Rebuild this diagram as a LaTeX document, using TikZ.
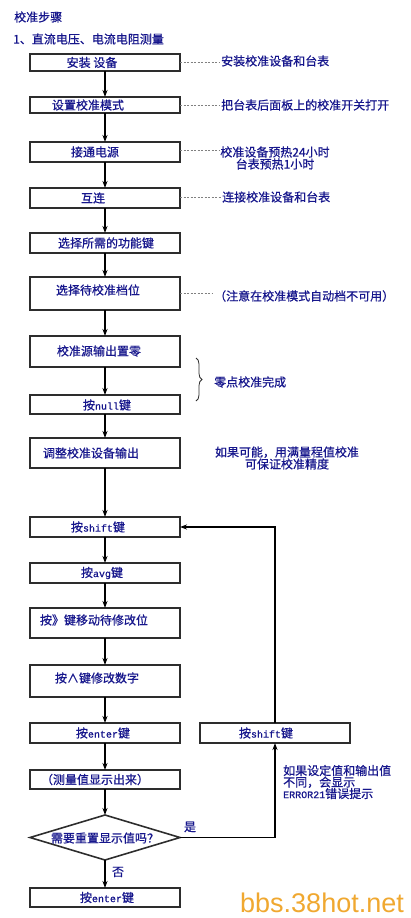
\documentclass[tikz,border=0pt]{standalone}
\usepackage{fontspec}
\setmainfont{Noto Sans CJK SC}[FakeBold=0.6]
\newfontfamily\latmono{Liberation Mono}[FakeBold=0.5]
\newfontfamily\wmfont{Liberation Sans}
\usetikzlibrary{arrows.meta,shapes.geometric,decorations.pathreplacing}
\definecolor{navy}{RGB}{22,22,140}
\definecolor{edgec}{RGB}{45,45,45}
\definecolor{wmc}{RGB}{240,168,48}
\newcommand\lt[1]{{\fontsize{10}{10}\selectfont\latmono #1}}
\begin{document}
\begin{tikzpicture}[x=1pt,y=-1pt,
 box/.style={draw=edgec, line width=1.6pt, fill=white, minimum width=150pt, inner sep=0pt, outer sep=0pt},
 txt/.style={text=navy, font=\fontsize{12}{12}\selectfont, inner sep=1pt},
 note/.style={text=navy, font=\fontsize{12}{12}\selectfont, inner sep=1pt, anchor=west},
 arr/.style={draw=black, line width=1.2pt, -{Stealth[length=7pt,width=5pt]}},
 dsh/.style={draw=gray, line width=0.9pt, dash pattern=on 2pt off 1.5pt},
]
\useasboundingbox[fill=white] (0,0) rectangle (410,918);

% titles
\node[note] (title) at (13,17) {校准步骤};
\node[note] (sub) at (12,39) {1、直流电压、电流电阻测量};

% boxes
\node[box, minimum height=17pt] (b1) at (105,62.5) {};
\node[box, minimum height=16pt] (b2) at (105,105) {};
\node[box, minimum height=20pt] (b3) at (105,152) {};
\node[box, minimum height=20pt] (b4) at (105,198) {};
\node[box, minimum height=20pt] (b5) at (105,243) {};
\node[box, minimum height=33pt] (b6) at (105,293.5) {};
\node[box, minimum height=31pt] (b7) at (105,351.5) {};
\node[box, minimum height=19pt] (b8) at (105,404.5) {};
\node[box, minimum height=30pt] (b9) at (105,453) {};
\node[box, minimum height=20pt] (b10) at (105,527) {};
\node[box, minimum height=20pt] (b11) at (105,573) {};
\node[box, minimum height=30pt] (b12) at (105,623) {};
\node[box, minimum height=32pt] (b13) at (105,681) {};
\node[box, minimum height=20pt] (b14) at (105,733) {};
\node[box, minimum height=20pt] (r) at (275,733) {};
\node[box, minimum height=19pt] (b15) at (105,779.5) {};
\node[draw=edgec, line width=1.6pt, fill=white, diamond, aspect=3.33, minimum width=150pt, minimum height=45pt, inner sep=0pt, outer sep=0pt] (d) at (105,837.5) {};
\node[box, minimum height=19pt] (b17) at (105,897.5) {};

% box texts
\node[txt] (t1) at (92,62.5) {安装 设备};
\node[txt] (t2) at (88,105) {设置校准模式};
\node[txt] (t3) at (95,152) {接通电源};
\node[txt] (t4) at (93,198) {互连};
\node[txt] (t5) at (106,243) {选择所需的功能键};
\node[txt] (t6) at (98,290) {选择待校准档位};
\node[txt] (t7) at (99,351) {校准源输出置零};
\node[txt] (t8) at (107,405) {按\lt{null}键};
\node[txt] (t9) at (91,453) {调整校准设备输出};
\node[txt] (t10) at (98,527) {按\lt{shift}键};
\node[txt] (t11) at (102,573) {按\lt{avg}键};
\node[txt] (t12) at (94,620) {按》键移动待修改位};
\node[txt] (t13) at (97,678) {按∧键修改数字};
\node[txt] (t14) at (103,733) {按\lt{enter}键};
\node[txt] (tr) at (266,733) {按\lt{shift}键};
\node[txt] (t15) at (95,779.5) {（测量值显示出来）};
\node[txt] (td) at (105,838) {需要重置显示值吗？};
\node[txt] (t17) at (107,897.5) {按\lt{enter}键};

% arrows
\draw[arr] (b1.south) -- (b2.north);
\draw[arr] (b2.south) -- (b3.north);
\draw[arr] (b3.south) -- (b4.north);
\draw[arr] (b4.south) -- (b5.north);
\draw[arr] (b5.south) -- (b6.north);
\draw[arr] (b6.south) -- (b7.north);
\draw[arr] (b7.south) -- (b8.north);
\draw[arr] (b8.south) -- (b9.north);
\draw[arr] (b9.south) -- (b10.north);
\draw[arr] (b10.south) -- (b11.north);
\draw[arr] (b11.south) -- (b12.north);
\draw[arr] (b12.south) -- (b13.north);
\draw[arr] (b13.south) -- (b14.north);
\draw[arr] (b14.south) -- (b15.north);
\draw[arr] (b15.south) -- (d.north);
\draw[arr] (d.south) -- (b17.north);
\draw[arr] (d.east) -| (r.south);
\draw[arr] (r.north) |- (b10.east);

\node[txt] (yes) at (190,827) {是};
\node[txt] (no) at (118,872) {否};

% side notes
\node[note] (n1) at (220,61) {安装校准设备和台表};
\draw[dsh] (b1.east) -- (b1.east -| n1.west);
\node[note] (n2) at (220,105) {把台表后面板上的校准开关打开};
\draw[dsh] (b2.east) -- (b2.east -| n2.west);
\node[txt, align=center, font=\fontsize{12}{12}\selectfont] (n3) at (275,158) {校准设备预热24小时\\台表预热1小时};
\draw[dsh] (b3.east |- 0,150) -- (n3.west |- 0,150);
\node[note] (n4) at (221,197) {连接校准设备和台表};
\draw[dsh] (b4.east |- 0,197) -- (n4.west |- 0,197);
\node[note] (n6) at (213,296) {（注意在校准模式自动档不可用）};
\draw[dsh] (b6.east |- 0,293) -- (n6.west |- 0,293);
\draw[edgec, line width=0.8pt, decorate, decoration={brace, amplitude=6pt}] (196,358) -- (196,401);
\node[note] (n8) at (213,382) {零点校准完成};
\node[txt, align=center, font=\fontsize{12}{12}\selectfont] (n9) at (287,458) {如果可能，用满量程值校准\\可保证校准精度};
\node[note, align=left, font=\fontsize{12}{11.5}\selectfont] (n16) at (282,782) {如果设定值和输出值\\不同，会显示\\\lt{ERROR21}错误提示};

% watermark
\node[anchor=base west, inner sep=0pt, text=wmc, font=\fontsize{27}{27}\selectfont\wmfont] (wm) at (240,912) {bbs.38hot.net};
\end{tikzpicture}
\end{document}
